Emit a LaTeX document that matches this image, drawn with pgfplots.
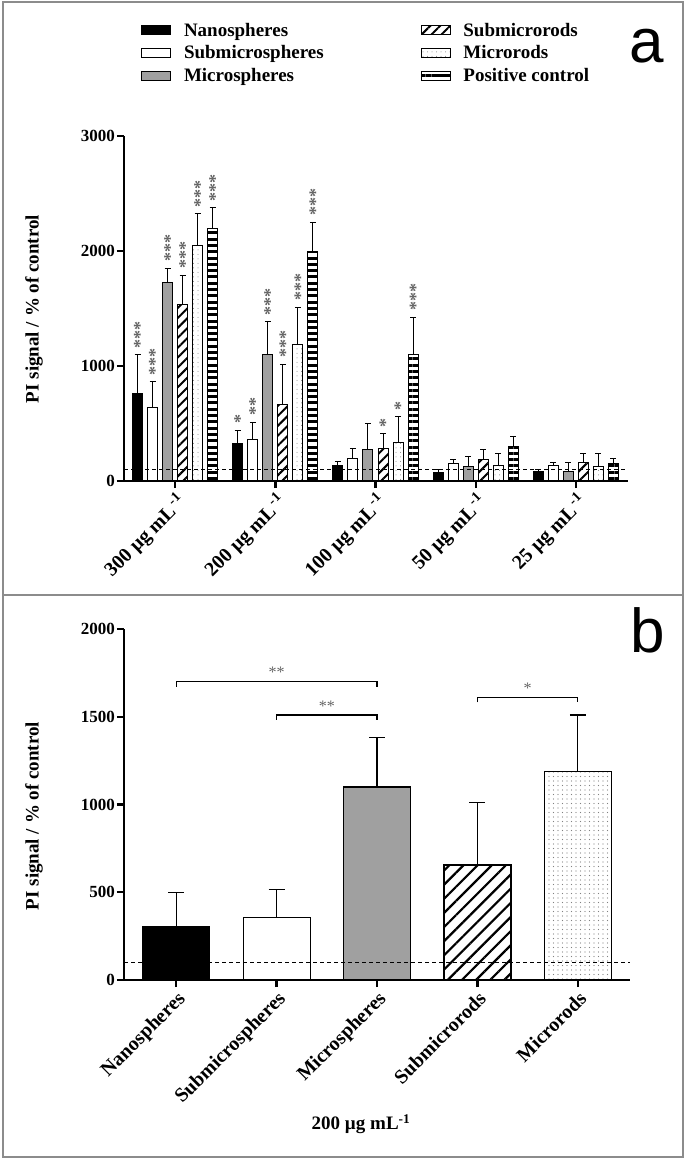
\documentclass[border=0pt]{standalone}
\usepackage{fontspec}
\setmainfont{Liberation Serif}
\newfontfamily\arialfont{Liberation Sans}
\usepackage{pgfplots}
\usepackage{pgfplotstable}
\pgfplotsset{compat=1.18}
\usetikzlibrary{patterns.meta}
\definecolor{micgray}{RGB}{160,160,160}
\definecolor{stargray}{RGB}{100,100,100}
\definecolor{framegray}{RGB}{140,140,140}

\pgfplotstableread{
x nano nanoE smic smicE mic micE srod srodE mrod mrodE pos posE
0 757 339 643 218 1730 122 1539 252 2052 270 2200 174
1 322 121 365 148 1104 279 661 356 1191 322 2000 252
2 139 30 200 87 270 234 287 122 339 218 1096 330
3 78 18 148 43 122 87 191 79 139 104 296 87
4 87 10 139 26 87 78 165 78 130 105 148 52
}\dataA

\pgfplotsset{
  myax/.style={
    scale only axis, clip=false, axis on top,
    axis lines=left,
    axis line style={-, line width=2.4pt},
    tick style={line width=2.4pt, black},
    tick align=outside, major tick length=7pt,
    minor tick num=0,
    /pgf/number format/assume math mode=true,
    /pgf/number format/1000 sep={},
    yticklabel style={font=\fontsize{17}{20}\selectfont\bfseries, inner sep=2pt},
    xticklabel style={font=\fontsize{20}{23}\selectfont\bfseries, rotate=45, anchor=north east, inner sep=2pt},
  },
  ebar/.style={error bars/.cd, y dir=plus, y explicit,
    error bar style={line width=1pt, black},
    error mark options={rotate=90, line width=1pt, black, mark size=3pt}},
  ebarb/.style={error bars/.cd, y dir=plus, y explicit,
    error bar style={line width=1.2pt, black},
    error mark options={rotate=90, line width=1.2pt, black, mark size=8pt}},
}

\newcommand{\starsA}[3]{\node[text=stargray, font=\fontsize{18}{18}\selectfont\bfseries, inner sep=0pt, xshift=2.5pt, rotate=90, anchor=west] at (axis cs:#1,#2) {#3};}

\begin{document}
\begin{tikzpicture}
\useasboundingbox (0,0) rectangle (685pt,-1159pt);
\draw[framegray, line width=1.5pt] (3pt,-2pt) rectangle (683pt,-1157pt);
\draw[framegray, line width=1.5pt] (3pt,-595pt) -- (683pt,-595pt);

% ---------------- panel a ----------------
\begin{axis}[myax,
  at={(124pt,-481pt)}, anchor=south west,
  width=504pt, height=345pt,
  xmin=-0.51, xmax=4.52, ymin=0, ymax=3000,
  ytick={0,1000,2000,3000},
  xtick={0,1,2,3,4},
  xticklabels={300 µg mL\textsuperscript{\hspace{2pt}-1},200 µg mL\textsuperscript{\hspace{2pt}-1},100 µg mL\textsuperscript{\hspace{2pt}-1},50 µg mL\textsuperscript{\hspace{2pt}-1},25 µg mL\textsuperscript{\hspace{2pt}-1}},
  bar width=10pt,
  legend columns=2,
  legend cell align=left,
  legend image code/.code={\draw[#1, line width=1pt] (0pt,-4.5pt) rectangle (29pt,4.5pt); \path (0pt,0pt) (40pt,0pt);},
  legend style={at={(0.028,1.34)}, anchor=north west, draw=none, fill=none,
    font=\fontsize{19}{22}\selectfont\bfseries, row sep=4pt,
    /tikz/every even column/.append style={column sep=95pt}},
]
\addplot[ybar, bar shift=0pt, fill=black, draw=black, line width=1pt, forget plot, ebar]
  table[x expr=\thisrow{x}-0.375, y=nano, y error=nanoE]{\dataA};
\addplot[ybar, bar shift=0pt, fill=white, draw=black, line width=1pt, forget plot, ebar]
  table[x expr=\thisrow{x}-0.225, y=smic, y error=smicE]{\dataA};
\addplot[ybar, bar shift=0pt, fill=micgray, draw=black, line width=1pt, forget plot, ebar]
  table[x expr=\thisrow{x}-0.075, y=mic, y error=micE]{\dataA};
\addplot[ybar, bar shift=0pt, fill=white, draw=black, line width=1pt, forget plot,
  postaction={pattern={Lines[angle=45, distance=7pt, line width=2pt]}}, ebar]
  table[x expr=\thisrow{x}+0.075, y=srod, y error=srodE]{\dataA};
\addplot[ybar, bar shift=0pt, fill=white, draw=black, line width=1pt, forget plot,
  postaction={pattern={Dots[distance=4.5pt, radius=0.5pt]}, pattern color=gray}, ebar]
  table[x expr=\thisrow{x}+0.225, y=mrod, y error=mrodE]{\dataA};
\addplot[ybar, bar shift=0pt, fill=white, draw=black, line width=1pt, forget plot,
  postaction={pattern={Lines[angle=0, distance=6.3pt, line width=3pt]}}, ebar]
  table[x expr=\thisrow{x}+0.375, y=pos, y error=posE]{\dataA};
\addplot[black, line width=1pt, dash pattern=on 4pt off 3pt, forget plot]
  coordinates {(-0.51,100) (4.52,100)};

\addlegendimage{fill=black, draw=black}
\addlegendentry{Nanospheres}
\addlegendimage{fill=white, draw=black, postaction={pattern={Lines[angle=45, distance=7pt, line width=2pt]}}}
\addlegendentry{Submicrorods}
\addlegendimage{fill=white, draw=black}
\addlegendentry{Submicrospheres}
\addlegendimage{fill=white, draw=black, postaction={pattern={Dots[distance=4.5pt, radius=0.5pt]}, pattern color=gray}}
\addlegendentry{Microrods}
\addlegendimage{fill=micgray, draw=black}
\addlegendentry{Microspheres}
\addlegendimage{fill=white, draw=black, postaction={pattern={Lines[angle=0, distance=6.3pt, line width=3pt]}}}
\addlegendentry{Positive control}

% stars, 300
\starsA{-0.375}{1150}{***}
\starsA{-0.225}{915}{***}
\starsA{-0.075}{1905}{***}
\starsA{0.075}{1845}{***}
\starsA{0.225}{2375}{***}
\starsA{0.375}{2430}{***}
% 200
\starsA{0.625}{500}{*}
\starsA{0.775}{570}{**}
\starsA{0.925}{1440}{***}
\starsA{1.075}{1070}{***}
\starsA{1.225}{1570}{***}
\starsA{1.375}{2305}{***}
% 100
\starsA{2.075}{465}{*}
\starsA{2.225}{610}{*}
\starsA{2.375}{1480}{***}
\end{axis}

\node[rotate=90, font=\fontsize{19}{22}\selectfont\bfseries] at (34pt,-309pt) {PI signal / \% of control};
\node[font=\fontsize{62}{62}\arialfont, anchor=base] at (647pt,-62pt) {a};

% ---------------- panel b ----------------
\begin{axis}[myax,
  at={(124pt,-980pt)}, anchor=south west,
  width=506pt, height=351pt,
  xmin=-0.52, xmax=4.52, ymin=0, ymax=2000,
  ytick={0,500,1000,1500,2000},
  xtick={0,1,2,3,4},
  xticklabels={Nanospheres,Submicrospheres,Microspheres,Submicrorods,Microrods},
  bar width=67pt,
]
\addplot[ybar, bar shift=0pt, fill=black, draw=black, line width=1.2pt, ebarb]
  coordinates {(0,305) +- (0,195)};
\addplot[ybar, bar shift=0pt, fill=white, draw=black, line width=1.2pt, ebarb]
  coordinates {(1,357) +- (0,160)};
\addplot[ybar, bar shift=0pt, fill=micgray, draw=black, line width=1.2pt, ebarb]
  coordinates {(2,1100) +- (0,283)};
\addplot[ybar, bar shift=0pt, fill=white, draw=black, line width=1.2pt,
  postaction={pattern={Lines[angle=45, distance=10pt, line width=2.2pt]}}, ebarb]
  coordinates {(3,655) +- (0,355)};
\addplot[ybar, bar shift=0pt, fill=white, draw=black, line width=1.2pt,
  postaction={pattern={Dots[distance=4.5pt, radius=0.55pt]}, pattern color=gray}, ebarb]
  coordinates {(4,1190) +- (0,320)};
\addplot[black, line width=1pt, dash pattern=on 4pt off 3pt]
  coordinates {(-0.52,100) (4.52,100)};
% significance brackets
\addplot[black, line width=1.2pt] coordinates {(0,1672) (0,1700) (2,1700) (2,1672)};
\addplot[black, line width=1.2pt] coordinates {(1,1482) (1,1510) (2,1510) (2,1482)};
\addplot[black, line width=1.2pt] coordinates {(3,1582) (3,1610) (4,1610) (4,1582)};
\node[text=stargray, font=\fontsize{16}{16}\selectfont, anchor=base] at (axis cs:1,1722) {**};
\node[text=stargray, font=\fontsize{16}{16}\selectfont, anchor=base] at (axis cs:1.5,1532) {**};
\node[text=stargray, font=\fontsize{16}{16}\selectfont, anchor=base] at (axis cs:3.5,1632) {*};
\end{axis}

\node[rotate=90, font=\fontsize{19}{22}\selectfont\bfseries] at (34pt,-816pt) {PI signal / \% of control};
\node[font=\fontsize{19}{22}\selectfont\bfseries] at (361pt,-1124pt) {200 µg mL\textsuperscript{-1}};
\node[font=\fontsize{62}{62}\arialfont, anchor=base] at (648pt,-652pt) {b};
\end{tikzpicture}
\end{document}
